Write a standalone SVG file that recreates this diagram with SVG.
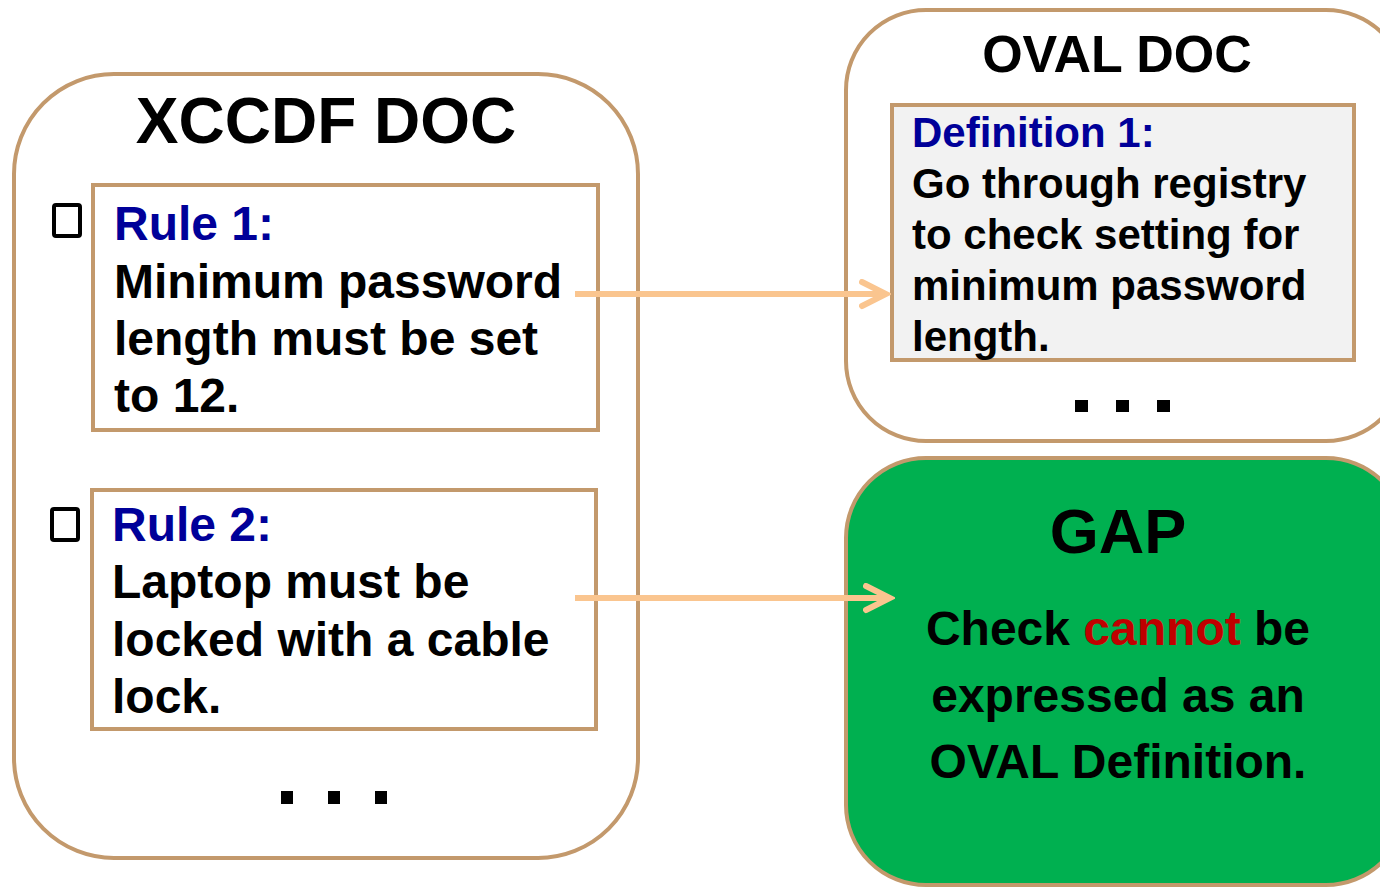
<svg xmlns="http://www.w3.org/2000/svg" width="1380" height="887" viewBox="0 0 1380 887">
  <style>
    .frame { fill: #FFFFFF; stroke: #C3996C; stroke-width: 4; }
    .card { fill: #FFFFFF; stroke: #C3996C; stroke-width: 4; }
    .t { font-family: "Liberation Sans", Arial, sans-serif; font-weight: bold; fill: #000000; }
    .title { font-size: 64px; text-anchor: middle; }
    .rule { font-size: 48px; }
    .def { font-size: 42px; }
    .gap { font-size: 48px; text-anchor: middle; }
    .blue { fill: #000099; }
    .red { fill: #C00000; }
    .box { fill: none; stroke: #000000; stroke-width: 4; }
    .dot { fill: #000000; }
    .link { stroke: #FAC58F; stroke-width: 6; fill: none; stroke-linecap: butt; }
  </style>
  <defs>
    <marker id="chev" markerUnits="userSpaceOnUse" markerWidth="32" markerHeight="32" refX="27" refY="15" orient="auto" viewBox="0 0 32 32">
      <path d="M3,3 L27,15 L3,27" fill="none" stroke="#FAC58F" stroke-width="6" stroke-linecap="round" stroke-linejoin="miter"/>
    </marker>
  </defs>
  <rect width="1380" height="887" fill="#FFFFFF"/>

  <!-- XCCDF document -->
  <g id="xccdf-doc">
    <rect class="frame" x="14" y="74" width="624" height="784" rx="100" ry="100"/>
    <text class="t title" x="326" y="143">XCCDF DOC</text>
    <g class="dot">
      <rect x="281" y="791" width="12" height="13"/>
      <rect x="328" y="791" width="12" height="13"/>
      <rect x="375" y="791" width="12" height="13"/>
    </g>
  </g>

  <g id="rule-1">
    <rect class="box" x="54" y="205" width="26" height="31" rx="2"/>
    <rect class="card" x="93" y="185" width="505" height="245"/>
    <text class="t rule" x="114" y="240"><tspan class="blue">Rule 1:</tspan></text>
    <text class="t rule" x="114" y="298">Minimum password</text>
    <text class="t rule" x="114" y="355">length must be set</text>
    <text class="t rule" x="114" y="412">to 12.</text>
  </g>

  <g id="rule-2">
    <rect class="box" x="52" y="509" width="26" height="31" rx="2"/>
    <rect class="card" x="92" y="490" width="504" height="239"/>
    <text class="t rule" x="112" y="541"><tspan class="blue">Rule 2:</tspan></text>
    <text class="t rule" x="112" y="598">Laptop must be</text>
    <text class="t rule" x="112" y="656">locked with a cable</text>
    <text class="t rule" x="112" y="713">lock.</text>
  </g>

  <!-- OVAL document -->
  <g id="oval-doc">
    <rect class="frame" x="846" y="10" width="560" height="431" rx="80" ry="80"/>
    <text class="t" x="1117" y="72" font-size="52" text-anchor="middle">OVAL DOC</text>
    <g class="dot">
      <rect x="1075" y="400" width="13" height="12"/>
      <rect x="1116" y="400" width="13" height="12"/>
      <rect x="1157" y="400" width="13" height="12"/>
    </g>
  </g>

  <g id="definition-1">
    <rect x="892" y="105" width="462" height="255" fill="#F2F2F2" stroke="#C3996C" stroke-width="4"/>
    <text class="t def" x="912" y="147"><tspan class="blue">Definition 1:</tspan></text>
    <text class="t def" x="912" y="198">Go through registry</text>
    <text class="t def" x="912" y="249">to check setting for</text>
    <text class="t def" x="912" y="300">minimum password</text>
    <text class="t def" x="912" y="351">length.</text>
  </g>

  <!-- Gap -->
  <g id="gap">
    <rect x="846" y="458" width="560" height="427" rx="80" ry="80" fill="#00B050" stroke="#C3996C" stroke-width="4"/>
    <text class="t" x="1118" y="553" font-size="63" text-anchor="middle">GAP</text>
    <text class="t gap" x="1118" y="645">Check <tspan class="red">cannot</tspan> be</text>
    <text class="t gap" x="1118" y="712">expressed as an</text>
    <text class="t gap" x="1118" y="778">OVAL Definition.</text>
  </g>

  <!-- Connectors -->
  <g id="connectors">
    <line class="link" x1="575" y1="294" x2="886" y2="294" marker-end="url(#chev)"/>
    <line class="link" x1="575" y1="598" x2="890" y2="598" marker-end="url(#chev)"/>
  </g>
</svg>
